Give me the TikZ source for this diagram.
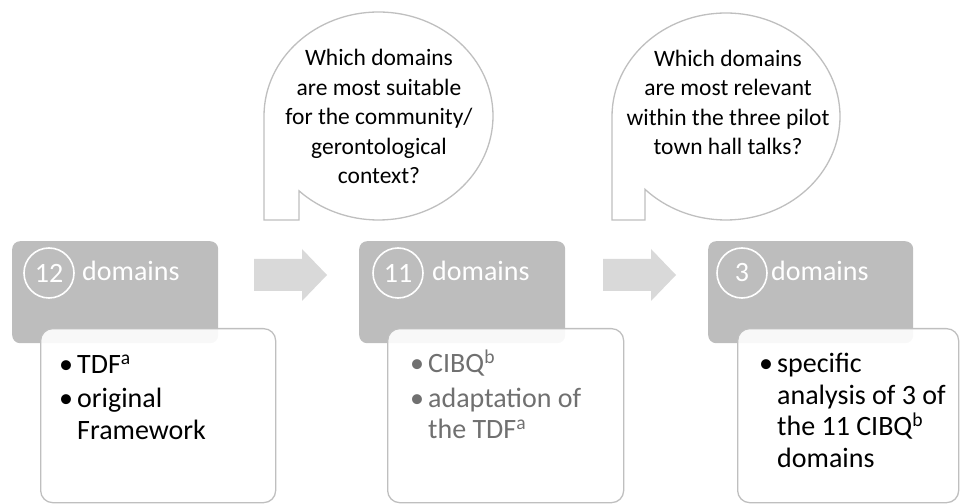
\documentclass[tikz,border=0pt]{standalone}
\usepackage{fontspec}
\setmainfont{Carlito}
\definecolor{stepgrey}{HTML}{BDBDBD}
\definecolor{arrowgrey}{HTML}{D9D9D9}
\definecolor{edgegrey}{HTML}{BFBFBF}
\definecolor{dimtext}{HTML}{707070}
\newcommand{\bul}{\makebox[22pt][c]{\textbullet}}
\newcommand{\ind}{\hspace*{22pt}}
\begin{document}
\begin{tikzpicture}[x=1pt,y=1pt,
  headbox/.style={fill=stepgrey, rounded corners=8pt, minimum width=206pt, minimum height=102pt, anchor=north west, inner sep=0pt},
  notebox/.style={draw=edgegrey, line width=1.3pt, fill=white, fill opacity=0.9, rounded corners=12pt, minimum height=174pt, anchor=north west, inner sep=0pt},
  numring/.style={circle, draw=white, line width=1.6pt, minimum size=50pt, inner sep=0pt, text=white, font=\fontsize{28}{30}\selectfont},
  headtext/.style={anchor=base west, inner sep=0pt, text=white, font=\fontsize{28}{30}\selectfont},
  bodytext/.style={anchor=base west, inner sep=0pt, align=left, font=\fontsize{28}{31.5}\selectfont},
  bubble/.style={draw=edgegrey, line width=1.3pt, fill=white},
  bubbletext/.style={anchor=base, inner sep=0pt, align=center, font=\fontsize{23.5}{29.5}\selectfont},
  steparrow/.style={fill=arrowgrey}]
\useasboundingbox (0,0) rectangle (960,503);

% speech bubbles with a square corner at the lower left
\draw[bubble] (264,387) arc[start angle=180, end angle=-134, x radius=114.5, y radius=104]
  -- (299,283) -- (264,283) -- cycle;
\draw[bubble] (612,386.5) arc[start angle=180, end angle=-135.3, x radius=114, y radius=103.5]
  -- (645,283) -- (612,283) -- cycle;
% (the base anchor of a multi-line node sits on its last line)
\node[bubbletext] (q1) at (379,319) {Which domains\\are most suitable\\for the community/\\gerontological\\context?};
\node[bubbletext] (q2) at (728,348) {Which domains\\are most relevant\\within the three pilot\\town hall talks?};

% block arrows between the steps
\fill[steparrow] (254,244) -- (302,244) -- (302,254) -- (327,228) -- (302,202) -- (302,212) -- (254,212) -- cycle;
\fill[steparrow] (603,244) -- (651,244) -- (651,254) -- (676,228) -- (651,202) -- (651,212) -- (603,212) -- cycle;

% step headers
\node[headbox] (h1) at (12,262) {};
\node[headbox] (h2) at (359,262) {};
\node[headbox, minimum width=205pt] (h3) at (708,262) {};

\node[numring] (n1) at (49,230) {12};
\node[headtext] (d1) at (82,222) {domains};
\node[numring] (n2) at (398,230) {11};
\node[headtext] (d2) at (432,222) {domains};
\node[numring] (n3) at (742,230) {3};
\node[headtext] (d3) at (771,222) {domains};

% detail boxes
\node[notebox, minimum width=235pt] (b1) at (40,175) {};
\node[notebox, minimum width=236pt] (b2) at (387,175) {};
\node[notebox, minimum width=221pt] (b3) at (737,175) {};

\node[bodytext] (t1) at (55,63.5) {\bul TDF\textsuperscript{a}\\[3pt]\bul original\\\ind Framework};
\node[bodytext, text=dimtext] (t2) at (406,64) {\bul CIBQ\textsuperscript{b}\\[3pt]\bul adaptation of\\\ind the TDF\textsuperscript{a}};
\node[bodytext] (t3) at (755,35.5) {\bul specific\\\ind analysis of 3 of\\\ind the 11 CIBQ\textsuperscript{b}\\\ind domains};
\end{tikzpicture}
\end{document}
